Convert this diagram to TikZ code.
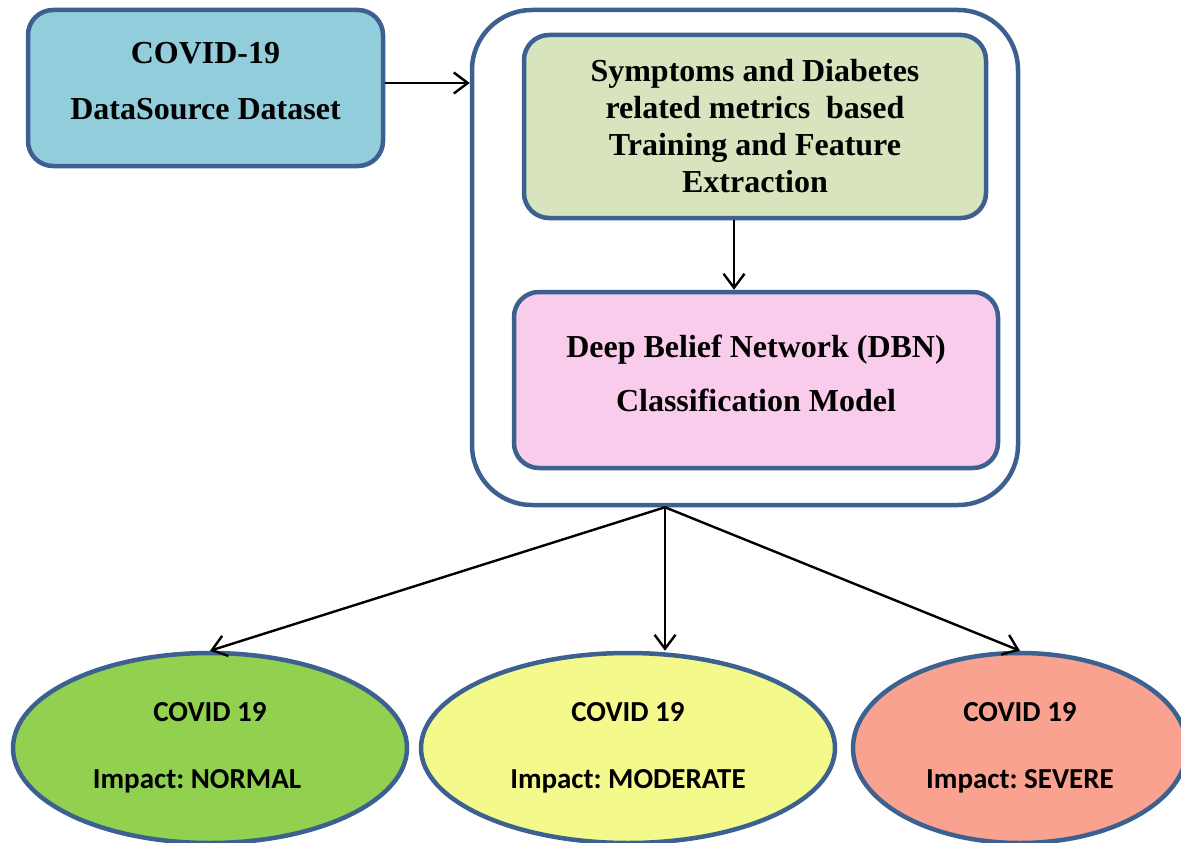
\documentclass[tikz,border=0pt]{standalone}
\usepackage{fontspec}
\setmainfont{Liberation Serif}
\newfontfamily\calfont{Carlito}
\usetikzlibrary{shapes.geometric,arrows.meta}
\definecolor{bordc}{HTML}{3C6090}
\definecolor{cBlue}{HTML}{92CDDC}
\definecolor{cGreen}{HTML}{D7E4BD}
\definecolor{cPink}{HTML}{F9CCEB}
\definecolor{eGreen}{HTML}{92D050}
\definecolor{eYellow}{HTML}{F3FA8B}
\definecolor{eRed}{HTML}{F8A28F}
\tikzset{
  rbox/.style={draw=bordc, line width=4.5pt, rounded corners=25pt, align=center, inner sep=0pt},
  txt/.style={align=center, inner sep=0pt},
  ell/.style={ellipse, draw=bordc, line width=4.5pt, align=center, inner sep=0pt,
    font=\calfont\bfseries\frenchspacing\fontsize{29}{67}\selectfont},
  arr/.style={-{Straight Barb[length=14pt,width=21pt]}, line width=2.4pt, black},
}
\begin{document}
\begin{tikzpicture}[x=1pt,y=-1pt]
\useasboundingbox (0,0) rectangle (1181,843);
\clip (0,0) rectangle (1181,843);
\node[rbox, fill=cBlue, minimum width=355pt, minimum height=156pt] (src) at (205.5,88) {};
\node[txt, font=\bfseries\fontsize{32}{56}\selectfont] (srct) at ([yshift=7pt]src.center)
  {COVID-19\\DataSource Dataset};
\node[draw=bordc, line width=4.5pt, rounded corners=60pt, fill=white, minimum width=546pt, minimum height=495pt] (cont) at (745,257.5) {};
\node[rbox, fill=cGreen, minimum width=462pt, minimum height=183pt, font=\bfseries\fontsize{32}{37}\selectfont] (feat) at (755,126.5)
  {Symptoms and Diabetes\\related metrics\ \ based\\Training and Feature\\Extraction};
\node[rbox, fill=cPink, minimum width=484pt, minimum height=176pt] (dbn) at (756,380) {};
\node[txt, font=\bfseries\fontsize{32}{54}\selectfont] (dbnt) at ([yshift=7pt]dbn.center)
  {Deep Belief Network (DBN)\\Classification Model};
\node[ell, fill=eGreen, minimum width=394pt, minimum height=190pt] (e1) at (210,748) {COVID 19\\Impact: NORMAL\hspace*{26pt}};
\node[ell, fill=eYellow, minimum width=414pt, minimum height=190pt] (e2) at (628,748) {COVID 19\\Impact: MODERATE};
\node[ell, fill=eRed, minimum width=334pt, minimum height=190pt] (e3) at (1020,748) {COVID 19\\Impact: SEVERE};
\coordinate (hub) at ([xshift=-80pt]cont.south);
\draw[arr] ([yshift=5pt]src.east) -- ([yshift=5pt]src.east -| cont.west);
\draw[arr] ([xshift=-21pt]feat.south) -- ([xshift=-21pt]feat.south |- dbn.north);
\draw[arr] (hub) -- (e1.north);
\draw[arr] (hub) -- (hub |- e2.north);
\draw[arr] (hub) -- (e3.north);
\end{tikzpicture}
\end{document}
